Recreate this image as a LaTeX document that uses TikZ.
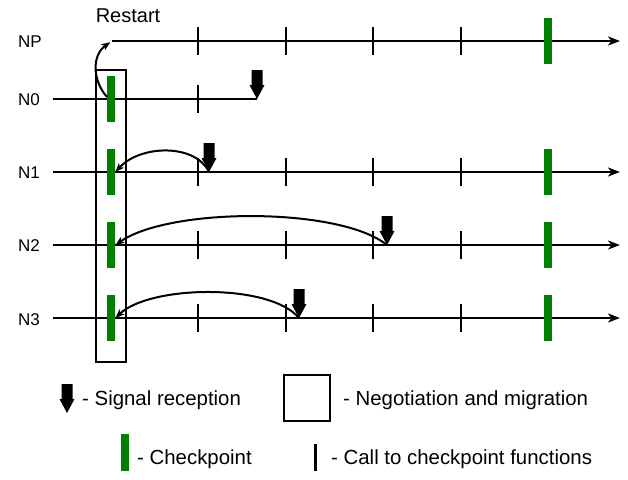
\documentclass[tikz,border=0pt]{standalone}
\usepackage{fontspec}
\setmainfont{Liberation Sans}
\usetikzlibrary{arrows.meta}
\definecolor{cpgreen}{RGB}{0,128,0}
\tikzset{
  timeline/.style={line width=2.3pt, -{Stealth[length=12pt,width=9pt,inset=3.5pt]}},
  plainline/.style={line width=2.3pt},
  callmark/.style={fill=black, inner sep=0pt, minimum width=2.6pt, minimum height=28pt},
  checkpt/.style={fill=cpgreen, inner sep=0pt, minimum width=8.5pt, minimum height=46pt},
  rollback/.style={line width=2pt, -{Stealth[length=9pt,width=7pt,inset=2.5pt]}},
  rowlabel/.style={font=\fontsize{17}{20}\selectfont, inner sep=0pt, anchor=base west},
  legendtext/.style={font=\fontsize{20.4}{24}\selectfont, inner sep=0pt, anchor=base west},
  pics/signal/.style={code={
    \fill[black] (-5.5,-29) -- (5.5,-29) -- (5.5,-14) -- (7.5,-14) -- (0,0)
      -- (-7.5,-14) -- (-5.5,-14) -- cycle;
  }}
}
\begin{document}
\begin{tikzpicture}[x=1pt,y=-1pt]
\useasboundingbox (0,0) rectangle (628,479);

% row labels
\node[rowlabel] (lNP) at (18,47) {NP};
\node[rowlabel] (lN0) at (18,105) {N0};
\node[rowlabel] (lN1) at (18,178) {N1};
\node[rowlabel] (lN2) at (18,251) {N2};
\node[rowlabel] (lN3) at (18,325) {N3};

% negotiation and migration box
\node[draw, line width=2.2pt, inner sep=0pt, minimum width=30pt, minimum height=292pt] (negbox) at (111,216) {};

% timelines
\coordinate (npS) at (112,41);  \coordinate (npE) at (620,41);
\coordinate (n0S) at (53,99);   \coordinate (n0E) at (257,99);
\coordinate (n1S) at (53,172);  \coordinate (n1E) at (620,172);
\coordinate (n2S) at (53,245);  \coordinate (n2E) at (620,245);
\coordinate (n3S) at (53,318);  \coordinate (n3E) at (620,318);
\draw[timeline] (npS) -- (npE);
\draw[plainline] (n0S) -- (n0E);
\draw[timeline] (n1S) -- (n1E);
\draw[timeline] (n2S) -- (n2E);
\draw[timeline] (n3S) -- (n3E);

% calls to checkpoint functions
\foreach \r/\y in {np/41,n1/172,n2/245,n3/318}{
  \foreach \x [count=\i] in {198,286,373,461}{
    \node[callmark] (\r t\i) at (\x,\y) {};
  }
}
\node[callmark] (n0t1) at (198,99) {};

% checkpoints
\node[checkpt] (cp0) at (111,99) {};
\node[checkpt] (cp1) at (111,172) {};
\node[checkpt] (cp2) at (111,245) {};
\node[checkpt] (cp3) at (111,318) {};
\node[checkpt] (cpNP) at (548,41) {};
\node[checkpt] (cp1b) at (548,172) {};
\node[checkpt] (cp2b) at (548,245) {};
\node[checkpt] (cp3b) at (548,318) {};

% signal receptions
\coordinate (s0) at (257,99);
\coordinate (s1) at (209,172);
\coordinate (s2) at (387,245);
\coordinate (s3) at (299,318);
\foreach \s in {s0,s1,s2,s3}{ \pic at (\s) {signal}; }

% rollbacks to the last checkpoint
\draw[rollback] (s1) .. controls (195,143) and (140,145) .. (cp1.east);
\draw[rollback] (s2) .. controls (340,207) and (170,207) .. (cp2.east);
\draw[rollback] (s3) .. controls (270,283) and (150,285) .. (cp3.east);

% restart
\coordinate (rs) at (107,97);
\draw[rollback, shorten >=2pt] (rs) .. controls (92,80) and (92,55) .. (npS);
\node[font=\fontsize{20}{24}\selectfont, inner sep=0pt] (restart) at (128,16) {Restart};

% legend
\pic at (67,413) {signal};
\node[legendtext] (lgSig) at (82,405) {- Signal reception};
\node[draw, line width=2.2pt, inner sep=0pt, minimum size=46pt] (lgBox) at (307,398) {};
\node[legendtext] (lgNeg) at (343,405) {- Negotiation and migration};
\node[fill=cpgreen, inner sep=0pt, minimum width=8.5pt, minimum height=37pt] (lgCp) at (125,452.5) {};
\node[legendtext] (lgCpT) at (137,464) {- Checkpoint};
\node[fill=black, inner sep=0pt, minimum width=3pt, minimum height=27pt] (lgCall) at (315,457.5) {};
\node[legendtext] (lgCallT) at (331,464) {- Call to checkpoint functions};
\end{tikzpicture}
\end{document}
